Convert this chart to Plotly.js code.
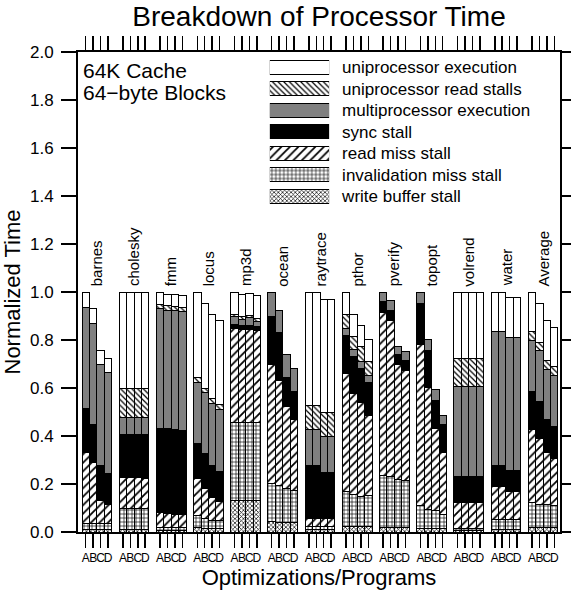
<!DOCTYPE html>
<html><head><meta charset="utf-8">
<script src="https://cdn.plot.ly/plotly-3.0.1.min.js"></script>
<style>body{margin:0;background:#fff}#chart{width:571px;height:596px}</style>
</head><body><div id="chart"></div>
<script>
const programs = ['barnes','cholesky','fmm','locus','mp3d','ocean','raytrace','pthor','pverify','topopt','volrend','water','Average'];
const variants = ['A','B','C','D'];
const componentNames = ['uniprocessor execution','uniprocessor read stalls','multiprocessor execution','sync stall','read miss stall','invalidation miss stall','write buffer stall'];

// values per bar: program order, then A,B,C,D
const uniExec = [
  0.063,0.062,0.062,0.062,  0.403,0.403,0.403,0.403,  0.051,0.048,0.052,0.051,  0.356,0.352,0.350,0.352,
  0.093,0.094,0.090,0.097,  0,0,0,0,  0.473,0.473,0.471,0.471,  0.093,0.092,0.090,0.091,
  0,0,0,0,  0,0,0,0,  0.279,0.279,0.279,0.276,  0.166,0.166,0.166,0.166,  0.166,0.162,0.166,0.162];
const uniReadStall = [
  0,0,0,0,  0.118,0.118,0.118,0.118,  0.017,0.017,0.017,0.017,  0.020,0.020,0.021,0.022,
  0.010,0.010,0.010,0.010,  0,0,0,0,  0.100,0.100,0.099,0.099,  0.059,0.056,0.061,0.056,
  0,0,0,0,  0,0,0,0,  0.114,0.114,0.114,0.114,  0,0,0,0,  0.037,0.035,0.035,0.036];
const multiExec = [
  0.424,0.422,0.418,0.419,  0.071,0.071,0.071,0.071,  0.499,0.495,0.493,0.495,  0.256,0.253,0.256,0.255,
  0.031,0.027,0.031,0.024,  0.100,0.093,0.096,0.097,  0.149,0.149,0.150,0.150,  0.028,0.029,0.028,0.030,
  0.040,0.038,0.034,0.037,  0.047,0.043,0.045,0.040,  0.377,0.377,0.377,0.377,  0.556,0.556,0.553,0.553,  0.212,0.211,0.211,0.213];
const syncStall = [
  0.180,0.159,0.145,0.128,  0.180,0.180,0.180,0.184,  0.353,0.352,0.353,0.352,  0.145,0.146,0.134,0.128,
  0.017,0.017,0.017,0.017,  0.203,0.200,0.121,0.117,  0.221,0.221,0.195,0.195,  0.159,0.152,0.145,0.139,
  0.046,0.042,0.039,0.039,  0.170,0.155,0.115,0.114,  0.108,0.108,0.108,0.108,  0.087,0.087,0.087,0.087,  0.158,0.155,0.137,0.133];
const readMiss = [
  0.297,0.253,0.097,0.080,  0.128,0.128,0.128,0.124,  0.060,0.058,0.055,0.051,  0.153,0.124,0.094,0.080,
  0.394,0.387,0.390,0.383,  0.495,0.436,0.343,0.298,  0.035,0.035,0.033,0.033,  0.494,0.422,0.391,0.331,
  0.677,0.653,0.480,0.459,  0.671,0.508,0.345,0.260,  0.107,0.107,0.107,0.107,  0.137,0.137,0.116,0.116,  0.304,0.273,0.215,0.199];
const invalMiss = [
  0.025,0.025,0.025,0.025,  0.090,0.090,0.090,0.090,  0.012,0.012,0.012,0.012,  0.050,0.042,0.035,0.030,
  0.325,0.325,0.325,0.325,  0.159,0.155,0.141,0.131,  0.012,0.012,0.012,0.012,  0.145,0.134,0.125,0.132,
  0.217,0.210,0.200,0.196,  0.096,0.080,0.073,0.058,  0.008,0.008,0.008,0.008,  0.044,0.044,0.044,0.044,  0.103,0.096,0.096,0.089];
const writeBuffer = [
  0.011,0.011,0.011,0.011,  0.010,0.010,0.010,0.010,  0.008,0.008,0.008,0.008,  0.020,0.015,0.015,0.016,
  0.130,0.130,0.130,0.130,  0.043,0.040,0.040,0.040,  0.010,0.010,0.010,0.010,  0.022,0.022,0.022,0.022,
  0.020,0.020,0.020,0.020,  0.016,0.015,0.015,0.015,  0.007,0.007,0.007,0.007,  0.010,0.010,0.010,0.010,  0.020,0.020,0.020,0.020];

const series = [uniExec, uniReadStall, multiExec, syncStall, readMiss, invalMiss, writeBuffer];
const styles = [
  {color:'#ffffff'},
  {color:'#ffffff', pattern:{shape:'\\', fgcolor:'#000', bgcolor:'#fff', size:4, solidity:0.3}},
  {color:'#808080'},
  {color:'#000000'},
  {color:'#ffffff', pattern:{shape:'/', fgcolor:'#000', bgcolor:'#fff', size:6, solidity:0.3}},
  {color:'#ffffff', pattern:{shape:'+', fgcolor:'#000', bgcolor:'#fff', size:4, solidity:0.3}},
  {color:'#ffffff', pattern:{shape:'x', fgcolor:'#000', bgcolor:'#fff', size:3, solidity:0.4}}
];

const xs = [], ticktext = [];
programs.forEach((p,i)=>variants.forEach((v,j)=>{ xs.push(5*i+j); ticktext.push(v); }));

const FONT = 'Liberation Sans, Arial, Helvetica, sans-serif';
const traces = [];
for (let k = series.length-1; k >= 0; k--) {
  const m = Object.assign({line:{color:'#000', width:1}}, styles[k]);
  traces.push({type:'bar', x:xs, y:series[k], width:1, marker:m, name:componentNames[k],
    showlegend:false, hoverinfo:'skip', xaxis:'x', yaxis:'y'});
}
// legend key drawn as swatches on a helper axis
componentNames.forEach((n,k)=>{
  const m = Object.assign({line:{color:'#000', width:1}}, styles[k]);
  traces.push({type:'bar', orientation:'h', x:[1], y:[n], width:0.66, marker:m,
    showlegend:false, hoverinfo:'skip', xaxis:'x2', yaxis:'y2'});
});

const annotations = programs.map((p,i)=>({
  text:p, x:5*i+1.5, y:1.015, xref:'x', yref:'y', textangle:-90,
  xanchor:'center', yanchor:'bottom', showarrow:false, font:{family:FONT, size:15, color:'#000'}
}));
annotations.push({text:'64K Cache', xref:'paper', yref:'paper', x:0.006, y:0.962,
  xanchor:'left', yanchor:'middle', showarrow:false, font:{family:FONT, size:21, color:'#000'}});
annotations.push({text:'64\u2212byte Blocks', xref:'paper', yref:'paper', x:0.006, y:0.916,
  xanchor:'left', yanchor:'middle', showarrow:false, font:{family:FONT, size:21, color:'#000'}});

const layout = {
  width:571, height:596,
  margin:{l:78, r:11, t:52, b:64},
  paper_bgcolor:'#fff', plot_bgcolor:'#fff',
  font:{family:FONT, color:'#000'},
  barmode:'stack', bargap:0,
  showlegend:false,
  title:{text:'Breakdown of Processor Time', font:{family:FONT, size:28, color:'#000'},
    xref:'paper', x:0.5, xanchor:'center', y:0.973, yanchor:'middle'},
  xaxis:{range:[-1.04,63.77], tickmode:'array', tickvals:xs, ticktext:ticktext, tickangle:0,
    ticks:'outside', ticklen:14, tickwidth:1.5, tickcolor:'#000',
    showline:true, linewidth:2, linecolor:'#000', mirror:'ticks',
    showgrid:false, zeroline:false, tickfont:{family:FONT, size:12, color:'#000'},
    title:{text:'Optimizations/Programs', font:{family:FONT, size:22, color:'#000'}, standoff:4}},
  yaxis:{range:[0,2], dtick:0.2, tick0:0, tickformat:'.1f',
    ticks:'outside', ticklen:15, tickwidth:1.5, tickcolor:'#000',
    showline:true, linewidth:2, linecolor:'#000', mirror:'ticks',
    showgrid:false, zeroline:false, tickfont:{family:FONT, size:17, color:'#000'}, ticklabelstandoff:4,
    title:{text:'Normalized Time', font:{family:FONT, size:22, color:'#000'}, standoff:4}},
  xaxis2:{domain:[0.398,0.521], anchor:'y2', range:[0,1], visible:false, fixedrange:true},
  yaxis2:{domain:[0.677,0.9905], anchor:'x2', side:'right', type:'category',
    categoryorder:'array', categoryarray:componentNames, range:[6.5,-0.5],
    showgrid:false, zeroline:false, showline:false, ticks:'', ticklabelstandoff:12,
    tickfont:{family:FONT, size:17, color:'#000'}},
  annotations:annotations
};

Plotly.newPlot('chart', traces, layout, {displayModeBar:false, staticPlot:true});
</script>
</body></html>
